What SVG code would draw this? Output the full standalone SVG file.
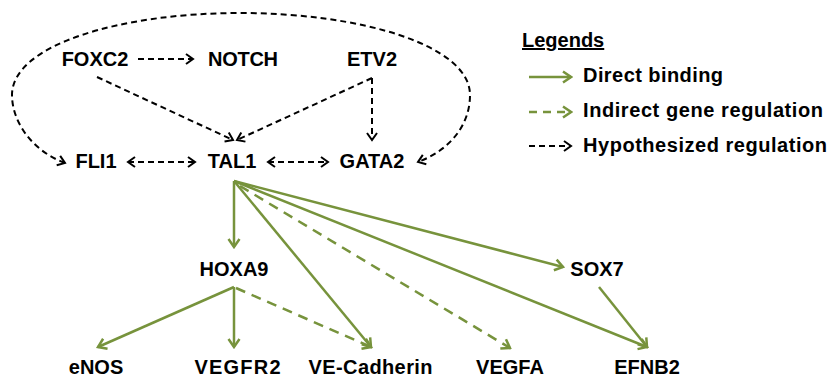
<svg xmlns="http://www.w3.org/2000/svg" width="830" height="379" viewBox="0 0 830 379">
<style>
text{font-family:"Liberation Sans",Arial,sans-serif;font-weight:bold;font-size:20px;fill:#000}
.n{text-anchor:middle}
.k{fill:none;stroke:#000;stroke-width:2;stroke-dasharray:6 4}
.g{fill:none;stroke:#77933C;stroke-width:2.5}
.gd{fill:none;stroke:#77933C;stroke-width:2.5;stroke-dasharray:10 7}
.mk{marker-end:url(#ak)}
.mkb{marker-end:url(#ak);marker-start:url(#ak)}
.mg{marker-end:url(#ag)}
</style>
<defs>
<marker id="ak" viewBox="-10 -7 12 14" refX="0" refY="0" markerWidth="12" markerHeight="14" markerUnits="userSpaceOnUse" orient="auto-start-reverse">
<path d="M-7,-5 L0,0 L-7,5" fill="none" stroke="#000" stroke-width="2"/>
</marker>
<marker id="ag" viewBox="-11 -7 13 14" refX="0" refY="0" markerWidth="13" markerHeight="14" markerUnits="userSpaceOnUse" orient="auto">
<path d="M-8,-5.5 L0,0 L-8,5.5" fill="none" stroke="#77933C" stroke-width="2.5"/>
</marker>
</defs>
<rect width="830" height="379" fill="#fff"/>
<g id="connectors">
<path class="k mkb" d="M65,163 C30,150 12,120 12,95 C12,45 120,13 240,13 C360,13 470,45 470,95 C470,125 450,150 418,162"/>
<line class="k mk" x1="138" y1="59" x2="193" y2="59"/>
<line class="k mk" x1="97" y1="77" x2="233" y2="140"/>
<path class="k mk" d="M372,78 L237,140"/>
<line class="k mk" x1="372" y1="78" x2="372" y2="140"/>
<line class="k mkb" x1="128" y1="162" x2="195" y2="162"/>
<line class="k mkb" x1="268" y1="162" x2="328" y2="162"/>
<line class="g mg" x1="234" y1="181" x2="234" y2="247"/>
<line class="g mg" x1="234" y1="181" x2="371" y2="347"/>
<line class="gd mg" x1="240" y1="186" x2="510" y2="348"/>
<line class="g mg" x1="234" y1="181" x2="647" y2="347"/>
<line class="g mg" x1="234" y1="181" x2="563" y2="267"/>
<line class="g mg" x1="234" y1="287" x2="98" y2="347"/>
<line class="g mg" x1="234" y1="287" x2="234" y2="347"/>
<line class="gd mg" x1="236" y1="288" x2="371" y2="347"/>
<line class="g mg" x1="599" y1="287" x2="647" y2="347"/>
</g>
<g id="FOXC2"><text class="n" x="95" y="66">FOXC2</text></g>
<g id="NOTCH"><text class="n" x="243" y="66" textLength="70" lengthAdjust="spacing">NOTCH</text></g>
<g id="ETV2"><text class="n" x="372" y="66">ETV2</text></g>
<g id="FLI1"><text class="n" x="96" y="168">FLI1</text></g>
<g id="TAL1"><text class="n" x="232" y="168">TAL1</text></g>
<g id="GATA2"><text class="n" x="372" y="168">GATA2</text></g>
<g id="HOXA9"><text class="n" x="234" y="276">HOXA9</text></g>
<g id="SOX7"><text class="n" x="597" y="276">SOX7</text></g>
<g id="eNOS"><text class="n" x="96" y="374">eNOS</text></g>
<g id="VEGFR2"><text class="n" x="237.5" y="374" textLength="86" lengthAdjust="spacing">VEGFR2</text></g>
<g id="VE-Cadherin"><text class="n" x="370.5" y="374" textLength="124" lengthAdjust="spacing">VE-Cadherin</text></g>
<g id="VEGFA"><text class="n" x="510" y="374">VEGFA</text></g>
<g id="EFNB2"><text class="n" x="647" y="374">EFNB2</text></g>
<g id="legend">
<text x="522" y="47" text-decoration="underline">Legends</text>
<line class="g mg" x1="529" y1="77" x2="571" y2="77"/>
<text x="583" y="82" textLength="140" lengthAdjust="spacing">Direct binding</text>
<line class="gd mg" x1="529" y1="112" x2="571" y2="112" style="stroke-dasharray:8 6"/>
<text x="583" y="117" textLength="240" lengthAdjust="spacing">Indirect gene regulation</text>
<line class="k mk" x1="529" y1="146" x2="571" y2="146"/>
<text x="583" y="152" textLength="244" lengthAdjust="spacing">Hypothesized regulation</text>
</g>
</svg>
